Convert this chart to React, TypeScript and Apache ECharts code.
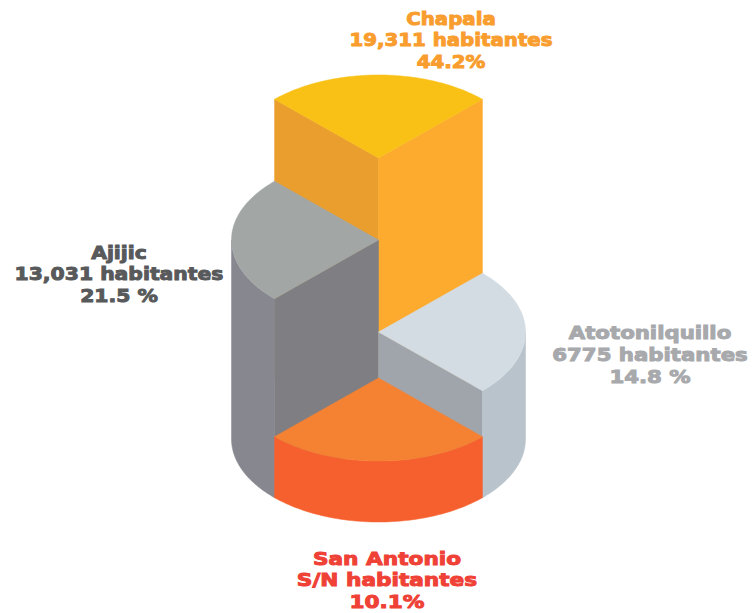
import React, { useEffect, useRef } from "react";
import * as echarts from "echarts";

const names = ["Chapala", "Ajijic", "Atotonilquillo", "San Antonio"];
const inhabitants = ["19,311 habitantes", "13,031 habitantes", "6775 habitantes", "S/N habitantes"];
const shares = ["44.2%", "21.5 %", "14.8 %", "10.1%"];
const startAngles = [225, 135, 315, 45];
const sweeps = [90, 90, 90, 90];
const columnHeights = [281, 199, 107, 61];

const topColors = ["#F9C015", "#A2A7A6", "#D3DCE3", "#F58233"];
const wallColors = ["#FCAB2F", "#87878F", "#B9C3CB", "#F6602E"];
const startFaceColors = ["#EA9E2E", "#7F7E82", null, null];
const endFaceColors = ["#FCAB2F", null, "#A0A5AC", null];
const textColors = ["#F99D2E", "#58595B", "#A7A9AC", "#EF4136"];

const RX = 147;
const RY = 83;
const labelLayout = [
  { x: 451, y: 40, scaleX: 1.07 },
  { x: 119, y: 274, scaleX: 1.1 },
  { x: 650, y: 355, scaleX: 1.15 },
  { x: 387, y: 580, scaleX: 1.17 },
];

function rad(d: number) {
  return (d * Math.PI) / 180;
}

function renderItem(params: any, api: any) {
  const i = params.dataIndex;
  const a0 = api.value(0);
  const sweep = api.value(1);
  const h = api.value(2);
  const a1 = a0 + sweep;
  const pt = (deg: number, r: number, level: number) =>
    api.coord([Math.cos(rad(deg)) * RX * r, level - Math.sin(rad(deg)) * RY * r]);
  const poly = (points: number[][], fill: string) => ({
    type: "polygon",
    shape: { points },
    style: { fill, stroke: fill, lineWidth: 0.5 },
  });
  const steps = 60;
  const arc = (from: number, to: number, level: number) => {
    const out: number[][] = [];
    for (let s = 0; s <= steps; s++) out.push(pt(from + ((to - from) * s) / steps, 1, level));
    return out;
  };
  const children: any[] = [];
  const face = (deg: number, fill: string | null) => {
    if (fill) children.push(poly([pt(0, 0, h), pt(deg, 1, h), pt(deg, 1, 0), pt(0, 0, 0)], fill));
  };
  const wall = (from: number, to: number) => {
    if (to > from) children.push(poly([...arc(from, to, h), ...arc(to, from, 0)], wallColors[i]));
  };
  face(a0, startFaceColors[i]);
  face(a1, endFaceColors[i]);
  // the outer wall faces the viewer where the rim runs along the near half of the ellipse
  wall(Math.max(a0, 0), Math.min(a1, 180));
  wall(Math.max(a0, 360), Math.min(a1, 540));
  children.push(poly([pt(0, 0, h), ...arc(a0, a1, h)], topColors[i]));
  return { type: "group", children };
}

export default function App() {
  const ref = useRef<HTMLDivElement>(null);
  useEffect(() => {
    const chart = echarts.init(ref.current!, null, { renderer: "svg" });
    chart.setOption({
      animation: false,
      backgroundColor: "#ffffff",
      grid: { left: 0, right: 0, top: 0, bottom: 0 },
      xAxis: { type: "value", min: -378.5, max: 374.5, show: false },
      yAxis: { type: "value", min: -174, max: 439, show: false },
      series: [
        {
          type: "custom",
          renderItem,
          clip: false,
          silent: true,
          data: names.map((_, i) => [startAngles[i], sweeps[i], columnHeights[i]]),
        },
      ],
      graphic: names.map((n, i) => ({
        type: "text",
        x: labelLayout[i].x,
        y: labelLayout[i].y,
        scaleX: labelLayout[i].scaleX,
        silent: true,
        style: {
          text: `${n}\n${inhabitants[i]}\n${shares[i]}`,
          fill: textColors[i],
          stroke: textColors[i],
          lineWidth: 1,
          font: 'bold 18.5px "DejaVu Sans", sans-serif',
          lineHeight: 21.6,
          align: "center",
          verticalAlign: "middle",
        },
      })),
    });
    return () => chart.dispose();
  }, []);
  return <div ref={ref} style={{ position: "absolute", left: 0, top: 0, width: 753, height: 613 }} />;
}
